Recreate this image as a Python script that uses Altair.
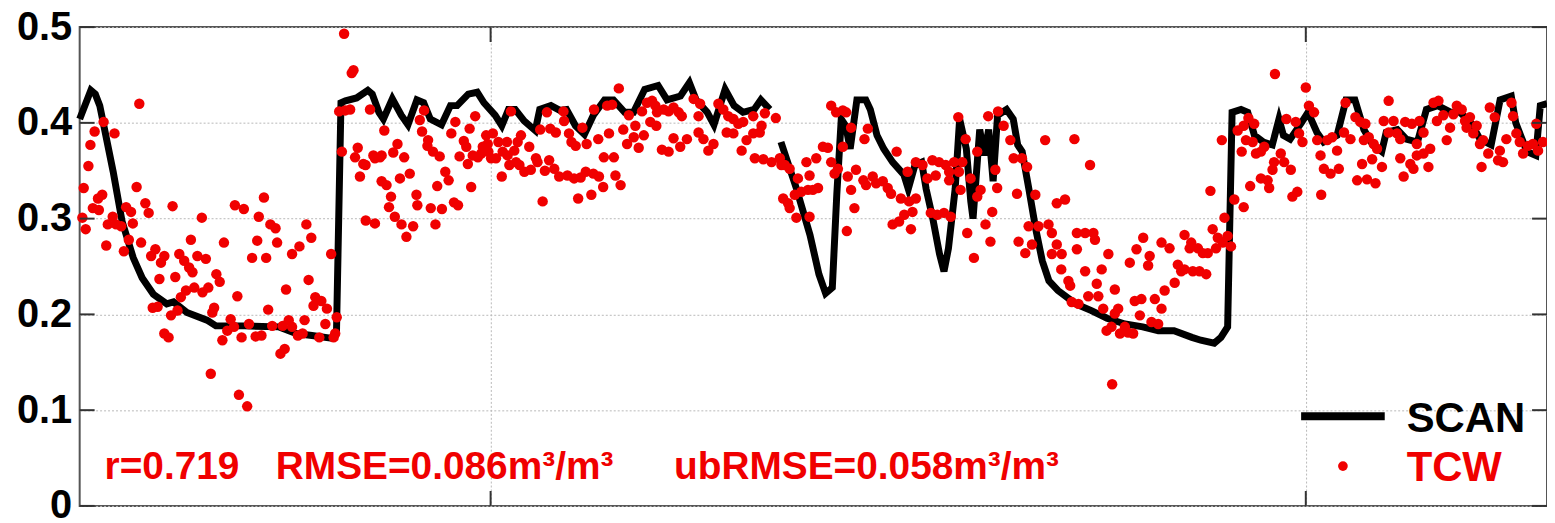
import altair as alt
import pandas as pd

# ---------------- axis values ----------------
y_ticks = [0, 0.1, 0.2, 0.3, 0.4, 0.5]
x_ticks = [184, 549]          # day index of the two vertical grid lines
x_max = 657                   # last day shown

# ---------------- SCAN (black line), day index, soil moisture ----------------
scan_seg1 = [
    (0, 0.404), (5, 0.434), (7, 0.430), (9, 0.418), (15, 0.349), (19, 0.297), (24, 0.259),
    (28, 0.238), (33, 0.221), (39, 0.211), (42, 0.213), (48, 0.202), (57, 0.194), (61, 0.188),
    (74, 0.188), (89, 0.187), (97, 0.180), (104, 0.178), (113, 0.175), (115, 0.183),
    (117, 0.421), (119, 0.423), (124, 0.426), (129, 0.434), (131, 0.430), (134, 0.411),
    (136, 0.404), (140, 0.425), (144, 0.408), (147, 0.398), (151, 0.424), (154, 0.421),
    (157, 0.404), (162, 0.398), (166, 0.418), (169, 0.418), (174, 0.430), (178, 0.432),
    (181, 0.421), (186, 0.408), (189, 0.397), (192, 0.414), (195, 0.414), (199, 0.402),
    (204, 0.392), (206, 0.414), (211, 0.418), (215, 0.413), (218, 0.414), (222, 0.397),
    (226, 0.388), (230, 0.408), (235, 0.424), (239, 0.424), (244, 0.411), (248, 0.411),
    (253, 0.435), (259, 0.439), (263, 0.424), (269, 0.428), (273, 0.442), (276, 0.424),
    (281, 0.411), (284, 0.398), (289, 0.435), (293, 0.418), (297, 0.411), (302, 0.414),
    (305, 0.424), (309, 0.414),
]
scan_seg2 = [
    (314, 0.380), (321, 0.331), (327, 0.283), (331, 0.242), (334, 0.222), (337, 0.228),
    (339, 0.325), (341, 0.404), (343, 0.397), (345, 0.373), (348, 0.424), (352, 0.424),
    (354, 0.414), (357, 0.387), (360, 0.373), (364, 0.359), (369, 0.346), (371, 0.331),
    (374, 0.356), (377, 0.359), (379, 0.331), (382, 0.300), (385, 0.263), (387, 0.245),
    (389, 0.269), (392, 0.331), (394, 0.404), (397, 0.373), (399, 0.318), (400, 0.300),
    (403, 0.393), (405, 0.366), (407, 0.393), (409, 0.339), (411, 0.408), (415, 0.414),
    (418, 0.404), (420, 0.377), (422, 0.370), (425, 0.331), (428, 0.290), (431, 0.256),
    (434, 0.235), (438, 0.225), (446, 0.211), (453, 0.204), (460, 0.196), (468, 0.190),
    (476, 0.187), (483, 0.183), (490, 0.183), (498, 0.176), (502, 0.173), (508, 0.170),
    (511, 0.176), (514, 0.187), (516, 0.411), (520, 0.414), (523, 0.411), (526, 0.387),
    (530, 0.380), (534, 0.377), (537, 0.404), (539, 0.387), (542, 0.383), (547, 0.400),
    (550, 0.411), (554, 0.390), (557, 0.380), (563, 0.387), (567, 0.424), (571, 0.424),
    (575, 0.393), (579, 0.377), (583, 0.370), (585, 0.390), (590, 0.393), (594, 0.383),
    (599, 0.380), (603, 0.414), (608, 0.418), (614, 0.411), (618, 0.411), (623, 0.400),
    (627, 0.383), (632, 0.377), (636, 0.424), (641, 0.428), (643, 0.400), (648, 0.370),
    (652, 0.366), (654, 0.418), (657, 0.420),
]

# ---------------- TCW (red dots), day index, soil moisture ----------------
tcw_a = [
    (26.7, 0.420), (10.7, 0.401), (6.7, 0.391), (15.6, 0.389), (4.8, 0.377), (3.9, 0.355),
    (1.8, 0.332), (25.5, 0.333), (8.2, 0.321), (10.1, 0.325), (5.9, 0.311), (8.6, 0.309),
    (1.2, 0.301), (2.7, 0.289), (29.4, 0.316), (30.9, 0.306), (41.6, 0.313), (20.8, 0.312),
    (23.0, 0.307), (14.8, 0.302), (12.6, 0.294), (16.3, 0.294), (18.6, 0.292), (23.8, 0.295),
    (11.9, 0.272), (19.8, 0.266), (22.0, 0.278), (27.5, 0.275), (33.9, 0.268), (32.0, 0.261),
    (37.9, 0.261), (36.4, 0.254), (44.6, 0.263), (46.8, 0.256), (49.0, 0.249), (50.5, 0.244),
    (35.7, 0.237), (42.8, 0.239), (49.8, 0.278), (54.7, 0.301), (52.7, 0.261), (56.5, 0.258),
    (47.6, 0.225), (51.3, 0.228), (55.0, 0.223), (57.6, 0.228), (45.3, 0.218), (61.2, 0.242),
    (62.7, 0.234), (64.6, 0.275), (32.7, 0.207), (34.9, 0.208), (40.9, 0.199), (43.8, 0.204),
    (37.9, 0.180), (39.8, 0.176), (60.2, 0.207), (59.4, 0.202), (58.7, 0.138), (71.3, 0.116),
    (75.0, 0.104), (67.6, 0.195), (66.1, 0.183), (63.9, 0.173), (69.1, 0.187), (72.5, 0.176),
    (70.6, 0.219), (69.5, 0.314), (73.5, 0.310), (82.5, 0.322), (80.2, 0.302), (79.5, 0.277),
    (77.2, 0.259), (83.5, 0.259), (85.4, 0.294), (87.7, 0.290), (88.4, 0.275), (75.8, 0.190),
    (78.8, 0.177), (81.4, 0.178), (84.4, 0.205), (86.2, 0.188), (90.9, 0.188), (93.6, 0.194),
    (95.1, 0.187), (97.7, 0.178), (89.9, 0.159), (91.8, 0.164), (92.4, 0.226), (95.1, 0.263),
    (98.4, 0.271), (101.5, 0.294), (103.7, 0.280), (102.5, 0.236), (100.7, 0.194), (99.8, 0.180),
    (105.5, 0.218), (104.7, 0.209), (108.2, 0.214), (110.7, 0.206), (110.0, 0.190), (107.3, 0.176),
    (112.6, 0.263), (115.1, 0.197), (113.7, 0.176), (114.4, 0.180), (117.4, 0.370), (116.2, 0.412),
    (118.9, 0.413), (121.1, 0.414), (121.8, 0.452), (122.6, 0.455), (124.5, 0.374), (123.3, 0.364),
    (127.0, 0.357), (125.5, 0.344), (128.1, 0.298), (132.2, 0.295), (130.0, 0.414), (131.5, 0.366),
    (118.4, 0.493), (128.0, 0.356), (132.2, 0.363), (135.2, 0.366),
]
tcw_b = [
    (136.4, 0.392), (134.5, 0.364), (140.4, 0.369), (142.3, 0.378), (145.3, 0.364), (135.2, 0.339),
    (137.4, 0.335), (139.4, 0.323), (138.5, 0.312), (141.1, 0.302), (144.1, 0.294), (146.3, 0.281),
    (149.3, 0.292), (143.4, 0.342), (147.8, 0.347), (150.8, 0.325), (151.2, 0.314), (152.3, 0.403),
    (154.2, 0.413), (153.3, 0.391), (156.0, 0.382), (155.7, 0.376), (158.2, 0.370), (161.2, 0.365),
    (157.2, 0.311), (162.2, 0.310), (159.3, 0.294), (160.1, 0.334), (163.7, 0.349), (165.2, 0.340),
    (167.6, 0.317), (169.4, 0.314), (166.4, 0.389), (168.2, 0.401), (170.1, 0.365), (172.0, 0.381),
    (173.1, 0.375), (173.8, 0.357), (174.6, 0.394), (175.3, 0.333), (177.1, 0.407), (176.0, 0.366),
    (178.3, 0.364), (180.5, 0.375), (182.7, 0.378), (185.0, 0.389), (182.0, 0.387), (179.8, 0.368),
    (183.0, 0.370), (184.2, 0.363), (186.4, 0.363), (187.5, 0.380), (191.3, 0.380), (189.4, 0.370),
    (191.6, 0.366), (193.1, 0.412), (189.0, 0.344), (192.4, 0.356), (195.4, 0.359), (194.6, 0.371),
    (197.6, 0.387), (196.1, 0.380), (196.9, 0.356), (199.1, 0.349), (202.0, 0.351), (201.3, 0.375),
    (204.3, 0.363), (205.0, 0.359), (206.2, 0.393), (209.2, 0.411), (207.3, 0.318), (208.3, 0.350),
    (210.2, 0.361), (210.7, 0.394), (213.2, 0.390), (212.5, 0.352), (214.7, 0.344), (216.6, 0.412),
    (216.9, 0.402), (218.4, 0.345), (221.4, 0.342), (224.3, 0.343), (219.1, 0.389), (220.2, 0.380),
    (223.2, 0.321), (222.1, 0.376), (225.1, 0.395), (227.0, 0.378), (226.6, 0.349), (230.0, 0.347),
    (232.5, 0.344), (229.1, 0.325), (234.4, 0.333), (230.3, 0.414), (232.2, 0.383), (234.7, 0.364),
    (239.2, 0.364), (237.0, 0.389), (239.9, 0.345), (242.2, 0.335), (236.2, 0.418), (238.4, 0.419),
    (241.4, 0.436), (243.4, 0.393), (245.9, 0.408), (245.1, 0.378), (248.1, 0.385), (248.8, 0.397),
    (250.3, 0.374), (252.6, 0.387), (251.8, 0.412), (254.0, 0.421), (256.3, 0.423), (257.8, 0.418),
    (255.5, 0.401), (258.2, 0.397), (260.7, 0.372), (263.7, 0.370), (258.5, 0.411), (261.5, 0.414),
    (263.7, 0.412), (265.9, 0.416), (268.2, 0.411), (269.6, 0.407), (265.9, 0.384), (268.9, 0.375),
    (271.9, 0.383), (274.9, 0.425), (277.1, 0.407), (277.8, 0.420), (277.1, 0.390), (279.3, 0.383),
    (281.5, 0.371), (283.8, 0.378), (286.0, 0.420), (288.2, 0.414), (290.4, 0.407), (292.7, 0.404),
    (294.9, 0.399), (297.1, 0.401), (289.7, 0.390), (292.7, 0.389), (296.4, 0.371), (298.6, 0.382),
    (301.6, 0.389), (304.5, 0.390), (305.3, 0.397), (301.6, 0.407), (306.8, 0.410), (311.7, 0.405),
    (302.3, 0.363), (306.1, 0.362), (309.8, 0.359), (314.2, 0.356), (315.0, 0.321),
]
tcw_c = [
    (313.5, 0.363), (315.7, 0.356), (317.9, 0.352), (321.6, 0.342), (325.4, 0.359), (317.2, 0.316),
    (320.2, 0.325), (323.1, 0.328), (326.1, 0.330), (328.3, 0.330), (330.6, 0.332), (317.9, 0.311),
    (320.9, 0.301), (326.8, 0.302), (326.8, 0.345), (329.8, 0.363), (332.8, 0.375), (335.0, 0.374),
    (336.5, 0.359), (339.5, 0.352), (338.0, 0.347), (336.5, 0.418), (338.7, 0.411), (341.7, 0.413),
    (343.2, 0.411), (341.7, 0.375), (343.9, 0.344), (345.4, 0.330), (343.5, 0.287), (346.9, 0.311),
    (345.4, 0.395), (351.4, 0.383), (352.9, 0.394), (347.6, 0.351), (350.9, 0.340), (352.1, 0.335),
    (355.1, 0.344), (356.6, 0.337), (359.6, 0.339), (361.8, 0.332), (363.3, 0.326), (365.8, 0.370),
    (364.0, 0.294), (366.9, 0.297), (370.7, 0.349), (367.7, 0.321), (371.4, 0.318), (374.4, 0.321),
    (372.9, 0.307), (369.2, 0.304), (372.2, 0.289), (374.4, 0.359), (377.4, 0.356), (379.6, 0.342),
    (381.8, 0.361), (383.3, 0.345), (384.8, 0.359), (387.8, 0.356), (389.3, 0.349), (391.5, 0.359),
    (393.7, 0.349), (395.2, 0.359), (381.1, 0.306), (384.0, 0.304), (387.0, 0.306), (390.0, 0.302),
    (389.3, 0.340), (394.4, 0.330), (393.4, 0.406), (396.7, 0.383), (397.4, 0.285), (400.4, 0.259),
    (398.9, 0.342), (401.9, 0.370), (401.9, 0.323), (403.4, 0.330), (405.6, 0.294), (407.8, 0.276),
    (406.8, 0.407), (411.2, 0.412), (413.7, 0.397), (408.6, 0.307), (410.0, 0.351), (410.8, 0.332),
    (416.7, 0.382), (418.2, 0.363), (421.9, 0.363), (424.2, 0.354), (419.7, 0.326), (420.4, 0.276),
    (423.4, 0.264), (426.4, 0.273), (424.9, 0.292), (429.3, 0.292), (433.8, 0.294), (427.9, 0.325),
    (432.3, 0.382), (435.3, 0.285), (437.5, 0.273), (435.3, 0.263), (439.7, 0.263), (439.5, 0.247),
    (437.5, 0.316), (441.2, 0.320), (442.7, 0.235), (443.5, 0.230), (444.2, 0.213), (447.2, 0.211),
    (445.4, 0.383), (446.5, 0.285), (450.2, 0.285), (453.9, 0.285), (454.6, 0.278), (446.5, 0.268),
    (450.2, 0.245), (452.4, 0.356), (451.6, 0.219), (455.4, 0.232), (456.1, 0.219), (457.6, 0.247),
    (458.3, 0.206), (460.6, 0.263), (463.5, 0.226), (465.0, 0.206), (463.5, 0.201), (459.8, 0.183),
    (462.0, 0.187), (465.8, 0.180), (468.0, 0.187), (469.4, 0.181), (471.7, 0.180), (462.3, 0.127),
    (470.2, 0.254), (473.2, 0.268), (476.2, 0.280), (472.4, 0.214), (475.4, 0.216), (474.7, 0.199),
    (478.4, 0.251), (479.1, 0.261), (481.4, 0.216), (484.4, 0.206), (485.8, 0.225), (479.9, 0.192),
    (482.9, 0.190), (484.4, 0.275), (488.0, 0.269), (490.3, 0.233), (491.7, 0.252), (493.2, 0.245),
    (494.7, 0.283), (497.0, 0.269), (498.4, 0.245),
]
tcw_d = [
    (497.7, 0.275), (500.7, 0.269), (502.9, 0.264), (505.1, 0.264), (494.7, 0.247), (501.4, 0.245),
    (504.4, 0.242), (507.3, 0.289), (509.6, 0.280), (511.8, 0.275), (508.8, 0.269), (512.6, 0.301),
    (514.0, 0.282), (515.5, 0.271), (506.3, 0.329), (511.4, 0.382), (517.0, 0.320), (521.2, 0.312),
    (518.5, 0.392), (521.2, 0.397), (523.3, 0.405), (525.9, 0.399), (520.3, 0.370), (522.2, 0.382),
    (525.2, 0.380), (526.7, 0.368), (528.9, 0.370), (530.4, 0.375), (524.1, 0.334), (528.9, 0.342),
    (532.6, 0.332), (531.9, 0.340), (534.1, 0.351), (534.8, 0.359), (537.8, 0.368), (539.3, 0.359),
    (542.3, 0.351), (543.0, 0.323), (545.2, 0.328), (540.3, 0.404), (544.5, 0.401), (535.2, 0.451),
    (549.0, 0.437), (546.0, 0.389), (547.5, 0.380), (550.4, 0.418), (552.7, 0.411), (554.1, 0.382),
    (555.6, 0.366), (558.6, 0.382), (560.8, 0.385), (563.0, 0.371), (555.9, 0.325), (557.1, 0.352),
    (560.1, 0.347), (563.8, 0.352), (566.8, 0.421), (566.1, 0.390), (569.0, 0.383), (571.2, 0.406),
    (573.4, 0.401), (575.7, 0.399), (572.0, 0.340), (574.2, 0.357), (576.4, 0.341), (578.7, 0.362),
    (580.2, 0.337), (583.1, 0.354), (575.0, 0.382), (577.2, 0.385), (579.4, 0.378), (580.9, 0.373),
    (583.9, 0.402), (586.1, 0.423), (588.3, 0.402), (586.1, 0.390), (589.8, 0.389), (593.5, 0.401),
    (591.3, 0.383), (591.3, 0.363), (592.8, 0.344), (595.8, 0.357), (597.2, 0.352), (598.7, 0.366),
    (601.7, 0.368), (603.9, 0.354), (598.7, 0.378), (596.5, 0.399), (599.9, 0.402), (601.7, 0.390),
    (604.7, 0.373), (606.2, 0.421), (608.4, 0.423), (607.7, 0.402), (610.6, 0.408), (612.1, 0.382),
    (613.6, 0.395), (615.1, 0.409), (616.6, 0.418), (618.8, 0.414), (620.3, 0.402), (622.5, 0.406),
    (621.0, 0.395), (624.0, 0.389), (625.5, 0.397), (627.0, 0.378), (628.4, 0.382), (630.7, 0.368),
    (627.7, 0.354), (631.4, 0.416), (633.6, 0.406), (635.9, 0.371), (635.1, 0.361), (637.3, 0.359),
    (638.8, 0.383), (641.1, 0.421), (641.8, 0.407), (643.3, 0.389), (644.8, 0.380), (646.3, 0.368),
    (648.5, 0.376), (650.7, 0.378), (652.2, 0.399), (653.0, 0.371), (655.2, 0.380),
]

stats_parts = ["r=0.719", "RMSE=0.086m\u00b3/m\u00b3", "ubRMSE=0.058m\u00b3/m\u00b3"]
legend_labels = ["SCAN", "TCW"]

# ---------------- build tables ----------------
scan_df = pd.DataFrame(
    [(d, v, 1) for d, v in scan_seg1] + [(d, v, 2) for d, v in scan_seg2],
    columns=["day", "sm", "seg"],
)
tcw_df = pd.DataFrame(tcw_a + tcw_b + tcw_c + tcw_d, columns=["day", "sm"])
ytick_df = pd.DataFrame({"sm": y_ticks})
xtick_df = pd.DataFrame({"day": x_ticks})

W, H = 1474, 481
FONT = "Liberation Sans"
RED = "#f00000"

xs = alt.Scale(domain=[0, x_max], nice=False, zero=False)
ys = alt.Scale(domain=[0, 0.5], nice=False)
x_axis = alt.Axis(values=x_ticks, labels=False, ticks=False, domain=False, grid=True,
                  gridDash=[2, 2], gridColor="#b8b8b8", gridWidth=1, title=None)
y_axis = alt.Axis(values=y_ticks, labelFontSize=40, labelFont=FONT, labelFontWeight="bold",
                  labelColor="black", labelPadding=8, ticks=False, domain=False, grid=True,
                  gridDash=[2, 2], gridColor="#b8b8b8", gridWidth=1, title=None,
                  labelExpr="datum.value == 0 ? '0' : format(datum.value, '.1f')")
X = alt.X("day:Q", scale=xs, axis=x_axis)
Y = alt.Y("sm:Q", scale=ys, axis=y_axis)

line = alt.Chart(scan_df).mark_line(color="black", strokeWidth=7, strokeJoin="miter").encode(
    x=X, y=Y, detail="seg:N", order="day:Q")
dots = alt.Chart(tcw_df).mark_circle(color=RED, size=110, opacity=1).encode(x=X, y=Y)

tick_style = dict(color="#333333", strokeWidth=2)
left_t = alt.Chart(ytick_df).mark_rule(**tick_style).encode(y=Y, x=alt.value(0), x2=alt.value(15))
right_t = alt.Chart(ytick_df).mark_rule(**tick_style).encode(y=Y, x=alt.value(W - 15), x2=alt.value(W))
top_t = alt.Chart(xtick_df).mark_rule(**tick_style).encode(x=X, y=alt.value(0), y2=alt.value(15))
bot_t = alt.Chart(xtick_df).mark_rule(**tick_style).encode(x=X, y=alt.value(H - 15), y2=alt.value(H))

stats_df = pd.DataFrame({"t": stats_parts, "px": [25, 197, 597]})
stats = alt.Chart(stats_df).mark_text(
    align="left", baseline="alphabetic", font=FONT, fontWeight="bold", fontSize=39, color=RED
).encode(text="t:N", x=alt.X("px:Q", scale=None), y=alt.value(454))

leg_line = alt.Chart(pd.DataFrame({"k": [0]})).mark_rule(color="black", strokeWidth=8).encode(
    x=alt.value(1227), x2=alt.value(1311), y=alt.value(391))
leg_dot = alt.Chart(pd.DataFrame({"k": [0]})).mark_circle(color=RED, size=95, opacity=1).encode(
    x=alt.value(1269), y=alt.value(441))
leg_scan = alt.Chart(pd.DataFrame({"t": [legend_labels[0]]})).mark_text(
    align="left", baseline="alphabetic", font=FONT, fontWeight="bold", fontSize=42, color="black"
).encode(text="t:N", x=alt.value(1333), y=alt.value(407))
leg_tcw = alt.Chart(pd.DataFrame({"t": [legend_labels[1]]})).mark_text(
    align="left", baseline="alphabetic", font=FONT, fontWeight="bold", fontSize=42, color=RED
).encode(text="t:N", x=alt.value(1333), y=alt.value(456))

chart = alt.layer(
    line, dots, left_t, right_t, top_t, bot_t, stats, leg_line, leg_dot, leg_scan, leg_tcw
).properties(
    width=W, height=H, autosize=alt.AutoSizeParams(type="none"),
    padding={"left": 72, "top": 18, "right": 0, "bottom": 24},
    background="white",
).configure_view(stroke="#555555", strokeWidth=2)

chart.save("out.html", embed_options={"renderer": "svg", "actions": False})
